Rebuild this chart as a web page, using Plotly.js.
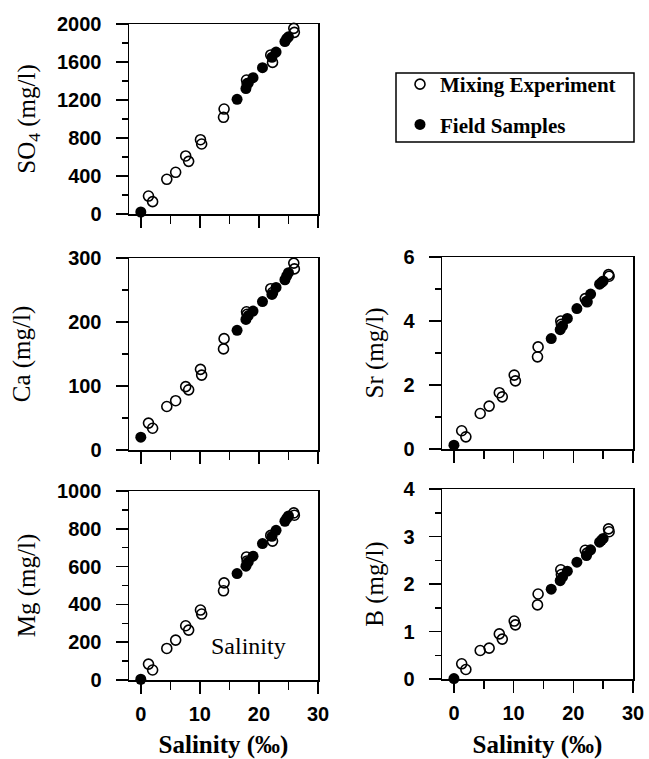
<!DOCTYPE html>
<html>
<head>
<meta charset="utf-8">
<script src="https://cdn.plot.ly/plotly-3.0.1.min.js"></script>
<style>html,body{margin:0;padding:0;background:#fff;}</style>
</head>
<body>
<div id="chart" style="width:649px;height:759px;"></div>
<script>
// Salinity (‰) of the samples
const mixSalinity   = [1.3, 2.0, 4.4, 5.9, 7.6, 8.1, 10.1, 10.3, 14.0, 14.1, 17.9, 18.0, 22.0, 22.3, 25.9, 26.0];
const fieldSalinity = [0, 16.3, 17.8, 18.2, 19.0, 20.6, 22.2, 22.9, 24.4, 24.7, 25.0];

// Concentrations (mg/l) – Mixing Experiment
const mixSO4 = [189, 130, 365, 439, 611, 554, 782, 737, 1018, 1105, 1410, 1370, 1674, 1596, 1954, 1912];
const mixCa  = [42, 34, 68, 77, 99, 94, 126, 117, 158, 174, 216, 212, 252, 246, 292, 283];
const mixSr  = [0.57, 0.38, 1.11, 1.34, 1.76, 1.63, 2.31, 2.13, 2.88, 3.19, 4.0, 3.9, 4.7, 4.6, 5.45, 5.4];
const mixMg  = [84, 53, 167, 211, 287, 264, 370, 349, 472, 514, 651, 630, 765, 735, 884, 872];
const mixB   = [0.32, 0.2, 0.6, 0.65, 0.95, 0.84, 1.22, 1.14, 1.56, 1.79, 2.3, 2.2, 2.71, 2.65, 3.16, 3.1];

// Concentrations (mg/l) – Field Samples
const fieldSO4 = [21, 1207, 1320, 1380, 1435, 1540, 1650, 1705, 1815, 1845, 1865];
const fieldCa  = [20, 187, 204, 210, 217, 232, 243, 254, 266, 272, 277];
const fieldSr  = [0.12, 3.45, 3.73, 3.85, 4.08, 4.39, 4.62, 4.84, 5.15, 5.2, 5.25];
const fieldMg  = [4, 563, 602, 625, 655, 722, 760, 792, 840, 855, 868];
const fieldB   = [0.01, 1.89, 2.07, 2.15, 2.27, 2.46, 2.6, 2.72, 2.88, 2.92, 2.96];

const seriesNames = ["Mixing Experiment", "Field Samples"];
const yTitles = ["SO<sub>4</sub> (mg/l)", "Ca (mg/l)", "Sr (mg/l)", "Mg (mg/l)", "B (mg/l)"];
const xTitle = "Salinity (‰)";
const yRanges = [[0, 2000], [0, 300], [0, 6], [0, 1000], [0, 4]];
const yDticks = [400, 100, 2, 200, 1];

const panels = [
  {mix: mixSO4, field: fieldSO4},
  {mix: mixCa, field: fieldCa},
  {mix: mixSr, field: fieldSr},
  {mix: mixMg, field: fieldMg},
  {mix: mixB, field: fieldB}
];

const traces = [];
panels.forEach((p, i) => {
  const ax = i === 0 ? '' : String(i + 1);
  traces.push({
    type: 'scatter', mode: 'markers', x: fieldSalinity, y: p.field,
    xaxis: 'x' + ax, yaxis: 'y' + ax, cliponaxis: false,
    name: seriesNames[1], legendgroup: 'f', legendrank: 2, showlegend: i === 0,
    marker: {symbol: 'circle', size: 11, color: '#000'}
  });
  traces.push({
    type: 'scatter', mode: 'markers', x: mixSalinity, y: p.mix,
    xaxis: 'x' + ax, yaxis: 'y' + ax, cliponaxis: false,
    name: seriesNames[0], legendgroup: 'm', legendrank: 1, showlegend: i === 0,
    marker: {symbol: 'circle-open', size: 10, color: '#000', line: {width: 1.6, color: '#000'}}
  });
});

const H = 759, W = 649;
const fx = (a, b) => [a / W, b / W];
const fy = (top, bot) => [(H - bot) / H, (H - top) / H];
const domains = [
  {x: fx(129, 318), y: fy(24, 214)},
  {x: fx(129, 318), y: fy(258, 450)},
  {x: fx(442, 633), y: fy(257, 449)},
  {x: fx(129, 318), y: fy(491, 680)},
  {x: fx(442, 633), y: fy(489, 679)}
];
const showXLabels = [false, false, false, true, true];
const yStandoff = [14, 30, 12, 14, 12];

const tickFont = {family: 'Liberation Sans, Arial, sans-serif', size: 20, color: '#000', weight: 'bold'};
const serif = 'Liberation Serif';

const layout = {
  width: W, height: H,
  margin: {l: 0, r: 0, t: 0, b: 0},
  paper_bgcolor: '#fff', plot_bgcolor: '#fff',
  showlegend: true,
  legend: {
    x: 400 / W, y: (H - 64) / H, xanchor: 'left', yanchor: 'top',
    bgcolor: 'rgba(0,0,0,0)', borderwidth: 0,
    font: {family: serif, size: 21, color: '#000', weight: 'bold'},
    itemsizing: 'trace'
  },
  shapes: [{
    type: 'rect', xref: 'paper', yref: 'paper',
    x0: 396 / W, x1: 634 / W, y0: (H - 142) / H, y1: (H - 73) / H,
    line: {color: '#000', width: 1.5}, fillcolor: '#fff', layer: 'below'
  }],
  annotations: [{
    text: 'Salinity', xref: 'x4', yref: 'y4', x: 18.2, y: 180,
    showarrow: false, font: {family: serif, size: 24, color: '#000'}
  }]
};

domains.forEach((d, i) => {
  const ax = i === 0 ? '' : String(i + 1);
  const xa = {
    domain: d.x, anchor: 'y' + ax, range: [-2, 30],
    tickmode: 'linear', tick0: 0, dtick: 10,
    ticks: 'outside', ticklen: 12, tickwidth: 1.5, tickcolor: '#000',
    minor: {ticks: 'outside', dtick: 5, tick0: 0, ticklen: 8, tickwidth: 1.5, tickcolor: '#000', showgrid: false},
    showticklabels: showXLabels[i], tickfont: tickFont, ticklabelstandoff: 3,
    showline: true, linecolor: '#000', linewidth: 1.5, mirror: true,
    showgrid: false, zeroline: false, fixedrange: true
  };
  if (showXLabels[i]) {
    xa.title = {text: xTitle, font: {family: serif, size: 25, color: '#000', weight: 'bold'}, standoff: 17};
  }
  layout['xaxis' + ax] = xa;
  layout['yaxis' + ax] = {
    domain: d.y, anchor: 'x' + ax, range: yRanges[i],
    tickmode: 'linear', tick0: 0, dtick: yDticks[i],
    ticks: 'outside', ticklen: 12, tickwidth: 1.5, tickcolor: '#000',
    minor: {ticks: 'outside', dtick: yDticks[i] / 2, tick0: 0, ticklen: 6, tickwidth: 1.5, tickcolor: '#000', showgrid: false},
    tickfont: tickFont, ticklabelstandoff: 10,
    showline: true, linecolor: '#000', linewidth: 1.5, mirror: true,
    showgrid: false, zeroline: false, fixedrange: true,
    title: {text: yTitles[i], font: {family: serif, size: 25, color: '#000'}, standoff: yStandoff[i]}
  };
});

Plotly.newPlot('chart', traces, layout, {displayModeBar: false, staticPlot: true});
</script>
</body>
</html>
